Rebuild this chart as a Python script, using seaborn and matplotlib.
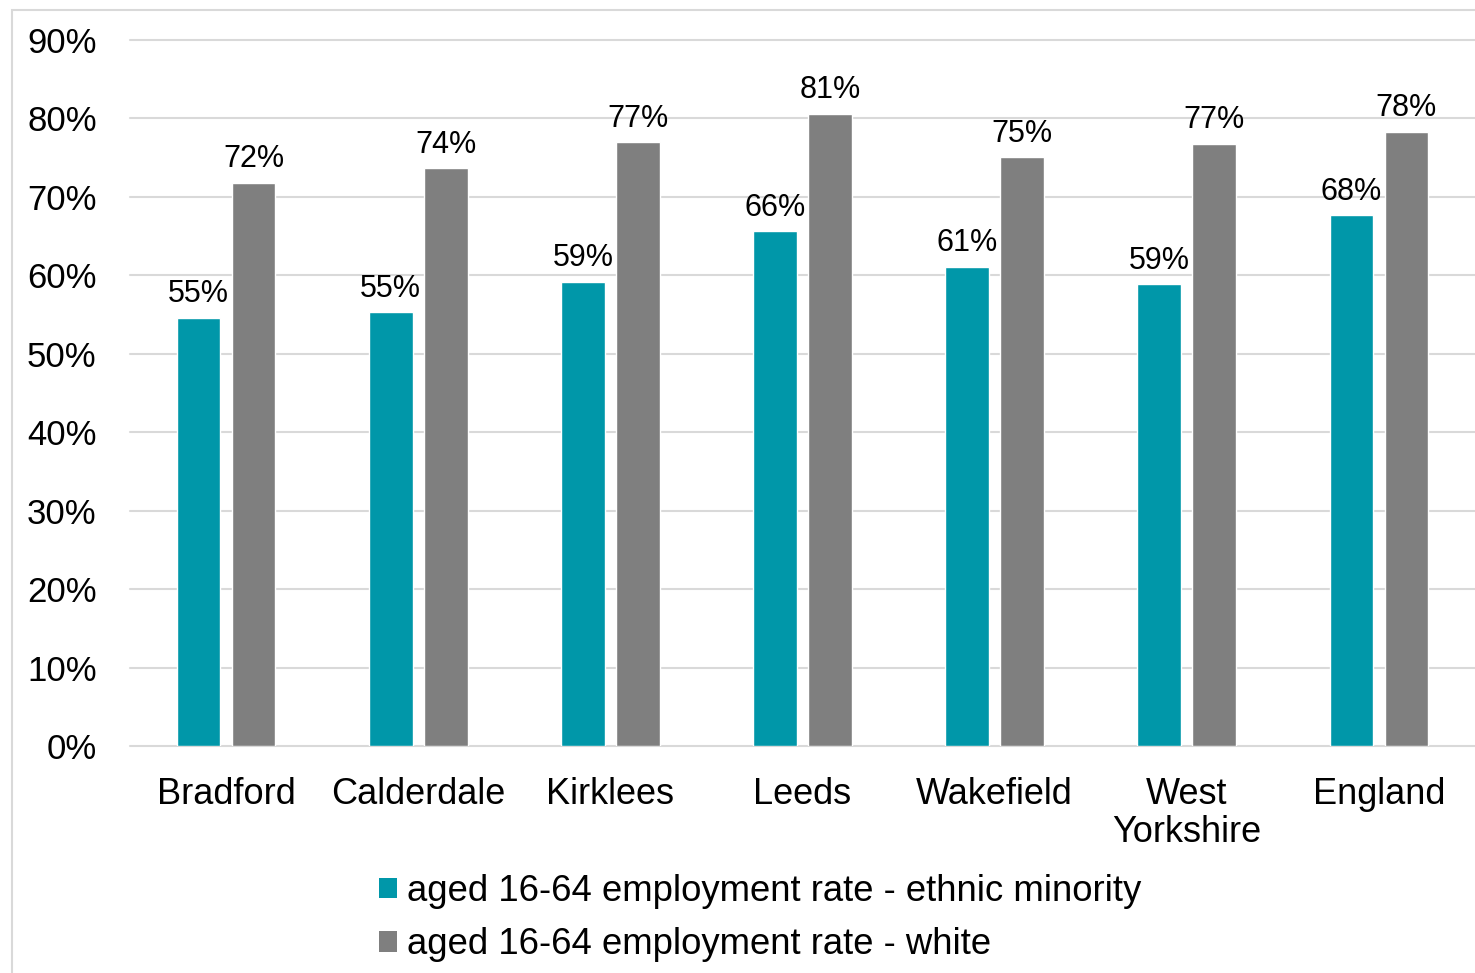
import matplotlib
matplotlib.use("Agg")
import matplotlib.pyplot as plt
from matplotlib.patches import Patch, Rectangle
import seaborn as sns
import pandas as pd

# Employment rate (%) of people aged 16-64, by area and ethnic group
areas = ["Bradford", "Calderdale", "Kirklees", "Leeds", "Wakefield",
         "West\nYorkshire", "England"]
ethnic_minority = [54.6, 55.3, 59.2, 65.6, 61.1, 58.9, 67.7]
white = [71.8, 73.7, 77.0, 80.6, 75.1, 76.8, 78.3]
series_names = ["aged 16-64 employment rate - ethnic minority",
                "aged 16-64 employment rate - white"]
y_ticks = [0, 10, 20, 30, 40, 50, 60, 70, 80, 90]

colors = ["#0097A9", "#7F7F7F"]
grid_color = "#D9D9D9"

df = pd.DataFrame({
    "area": areas * 2,
    "series": [series_names[0]] * len(areas) + [series_names[1]] * len(areas),
    "rate": ethnic_minority + white,
})

sns.set_theme(style="white")
plt.rcParams["font.family"] = ["Liberation Sans", "DejaVu Sans"]

W, H = 1475, 973
fig = plt.figure(figsize=(W / 100, H / 100), dpi=100)
ax = fig.add_axes([130 / W, 1 - 746 / H, 1 - 130 / W, (746 - 40) / H])

sns.barplot(data=df, x="area", y="rate", hue="series", order=areas,
            hue_order=series_names, palette=colors, width=0.573, gap=0.206,
            errorbar=None, legend=False, saturation=1, ax=ax)

for cont in ax.containers:
    ax.bar_label(cont, fmt="{:.0f}%", padding=6, fontsize=22, color="black")

ax.set_xlim(-0.5, 6.5)
ax.set_ylim(0, 90)
ax.set_yticks(y_ticks)
ax.set_yticklabels([f"{t}%" for t in y_ticks])
ax.set_xlabel("")
ax.set_ylabel("")
ax.yaxis.grid(True, color=grid_color, linewidth=1.5)
ax.set_axisbelow(True)
for gl in ax.get_ygridlines():
    gl.set_clip_on(False)
for s in ax.spines.values():
    s.set_visible(False)
ax.tick_params(axis="y", length=0, pad=24, labelsize=25, labelcolor="black")
ax.tick_params(axis="x", length=0, pad=22, labelsize=26, labelcolor="black")
for lbl in ax.get_xticklabels():
    lbl.set_linespacing(1.12)

# Chart frame
fig.add_artist(Rectangle((12 / W, -0.05), 1.2, 1 - 10 / H + 0.05,
                         transform=fig.transFigure, fill=False,
                         edgecolor=grid_color, linewidth=1.5))

handles = [Patch(facecolor=c, edgecolor="none") for c in colors]
fig.legend(handles, series_names, loc="upper left",
           bbox_to_anchor=(379 / W, 1 - 874 / H), frameon=False,
           fontsize=26.3, handlelength=0.5, handleheight=0.5,
           handletextpad=0.28, labelspacing=0.5, borderpad=0,
           borderaxespad=0, labelcolor="black")

fig.savefig("out.png", dpi=100)
